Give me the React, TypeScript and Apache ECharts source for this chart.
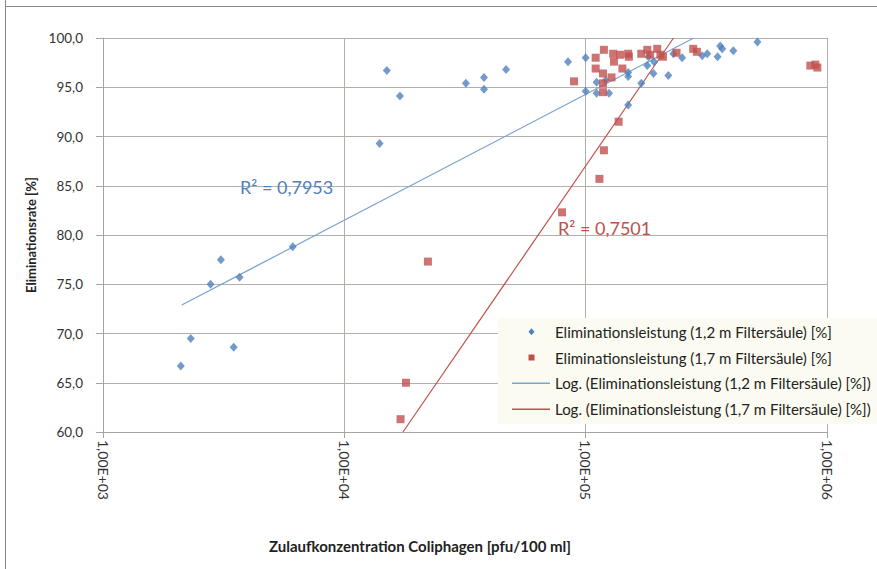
import React, { useEffect, useRef } from 'react';
import * as echarts from 'echarts';

// Zulaufkonzentration Coliphagen [pfu/100 ml] vs. Eliminationsrate [%]
const blueX = [2.10e3, 2.31e3, 2.79e3, 3.08e3, 3.48e3, 3.68e3, 6.11e3, 1.40e4, 1.50e4, 1.70e4,
  3.19e4, 3.79e4, 3.79e4, 4.68e4, 8.45e4, 1.00e5, 1.00e5, 1.11e5, 1.11e5, 1.21e5,
  1.25e5, 1.50e5, 1.50e5, 1.70e5, 1.50e5, 1.80e5, 1.82e5, 1.91e5, 1.92e5, 2.20e5,
  2.31e5, 2.51e5, 3.04e5, 3.19e5, 3.52e5, 3.61e5, 3.68e5, 4.09e5, 5.15e5];
const blueY = [66.7, 69.5, 75.0, 77.5, 68.6, 75.7, 78.8, 89.3, 96.7, 94.1,
  95.4, 96.0, 94.8, 96.8, 97.6, 98.0, 94.6, 95.5, 94.4, 95.7,
  94.4, 96.5, 96.1, 95.4, 93.2, 97.2, 98.1, 96.4, 97.6, 96.2,
  98.4, 98.0, 98.2, 98.4, 98.1, 99.2, 98.9, 98.7, 99.6];

const redX = [1.71e4, 1.80e4, 2.22e4, 7.98e4, 1.14e5, 1.19e5, 1.37e5, 8.95e4, 1.10e5, 1.10e5,
  1.19e5, 1.18e5, 1.18e5, 1.18e5, 1.28e5, 1.30e5, 1.31e5, 1.39e5, 1.42e5, 1.50e5,
  1.51e5, 1.70e5, 1.80e5, 1.85e5, 1.98e5, 2.04e5, 2.09e5, 2.38e5, 2.79e5, 2.89e5,
  8.53e5, 9.12e5, 8.95e5];
const redY = [61.3, 65.0, 77.3, 82.3, 85.7, 88.6, 91.5, 95.6, 98.0, 96.9,
  98.8, 96.4, 95.4, 94.5, 96.0, 98.4, 97.6, 98.3, 96.9, 98.4,
  98.1, 98.4, 98.8, 98.3, 98.9, 98.3, 98.1, 98.5, 98.9, 98.6,
  97.2, 97.0, 97.3];

// logarithmic trend lines, end points
const blueTrendX = [2.12e3, 2.805e5];
const blueTrendY = [72.9, 100.0];
const redTrendX = [1.75e4, 2.312e5];
const redTrendY = [60.0, 100.0];

const blueR2 = 'R² = 0,7953';
const redR2 = 'R² = 0,7501';

const nameBlue = 'Eliminationsleistung (1,2 m Filtersäule) [%]';
const nameRed = 'Eliminationsleistung (1,7 m Filtersäule) [%]';
const nameBlueTrend = 'Log. (Eliminationsleistung (1,2 m Filtersäule) [%])';
const nameRedTrend = 'Log. (Eliminationsleistung (1,7 m Filtersäule) [%])';

const BLUE = '#4f81bd';
const BLUE_LINE = '#7aa3d1';
const RED = '#c0504d';
const FONT = 'Lato, "Noto Sans", sans-serif';
const LEGEND_FONT = '15px ' + FONT;

const zip = (xs: number[], ys: number[]) => xs.map((x, i) => [x, ys[i]]);

export default function App() {
  const ref = useRef<HTMLDivElement>(null);
  useEffect(() => {
    const chart = echarts.init(ref.current!, null, { renderer: 'svg' });
    const rows = [331.7, 357.5, 383.3, 409.3];
    const legendTexts = [nameBlue, nameRed, nameBlueTrend, nameRedTrend];
    chart.setOption({
      animation: false,
      backgroundColor: '#ffffff',
      textStyle: { fontFamily: FONT },
      grid: { left: 103, right: 50, top: 38, bottom: 137, containLabel: false },
      legend: { show: false },
      xAxis: {
        type: 'log',
        logBase: 10,
        min: 1000,
        max: 1000000,
        name: 'Zulaufkonzentration Coliphagen [pfu/100 ml]',
        nameLocation: 'middle',
        nameGap: 106,
        nameTextStyle: { fontFamily: FONT, fontSize: 15, fontWeight: 'bold', color: '#222', padding: [0, 90, 0, 0] },
        axisLine: { show: true, lineStyle: { color: '#a9a39f', width: 1 } },
        axisTick: { show: true, inside: false, length: 6, lineStyle: { color: '#a9a39f' } },
        minorTick: { show: false },
        splitLine: { show: true, lineStyle: { color: '#b5afab', width: 1 } },
        axisLabel: {
          rotate: -90,
          margin: 8,
          fontFamily: FONT,
          fontSize: 14,
          color: '#333',
          formatter: (v: number) => {
            const e = Math.round(Math.log10(v));
            return '1,00E+' + (e < 10 ? '0' + e : String(e));
          },
        },
      },
      yAxis: {
        type: 'value',
        min: 60,
        max: 100,
        interval: 5,
        name: 'Eliminationsrate [%]',
        nameLocation: 'middle',
        nameGap: 63,
        nameTextStyle: { fontFamily: FONT, fontSize: 13, fontWeight: 'bold', color: '#222' },
        axisLine: { show: true, lineStyle: { color: '#a9a39f', width: 1 } },
        axisTick: { show: true, inside: false, length: 7, lineStyle: { color: '#a9a39f' } },
        splitLine: { show: true, lineStyle: { color: '#b5afab', width: 1 } },
        axisLabel: {
          margin: 20,
          fontFamily: FONT,
          fontSize: 13.5,
          color: '#333',
          formatter: (v: number) => v.toFixed(1).replace('.', ','),
        },
      },
      series: [
        {
          name: nameBlueTrend,
          type: 'line',
          data: zip(blueTrendX, blueTrendY),
          showSymbol: false,
          symbol: 'none',
          clip: true,
          lineStyle: { color: BLUE_LINE, width: 1.2 },
          itemStyle: { color: BLUE_LINE },
          z: 2,
        },
        {
          name: nameRedTrend,
          type: 'line',
          data: zip(redTrendX, redTrendY),
          showSymbol: false,
          symbol: 'none',
          clip: true,
          lineStyle: { color: RED, width: 1.2 },
          itemStyle: { color: RED },
          z: 2,
        },
        {
          name: nameBlue,
          type: 'scatter',
          data: zip(blueX, blueY),
          symbol: 'diamond',
          symbolSize: [8, 9],
          itemStyle: { color: BLUE },
          z: 3,
        },
        {
          name: nameRed,
          type: 'scatter',
          data: zip(redX, redY),
          symbol: 'rect',
          symbolSize: 8,
          itemStyle: { color: RED },
          z: 4,
        },
      ],
      graphic: [
        { type: 'line', shape: { x1: 5.5, y1: 0, x2: 5.5, y2: 569 }, style: { stroke: '#7d8a99', lineWidth: 1 } },
        { type: 'line', shape: { x1: 5, y1: 6.5, x2: 877, y2: 6.5 }, style: { stroke: '#7d8a99', lineWidth: 1 } },
        {
          type: 'text', z: 10,
          style: { text: blueR2, x: 240, y: 187, verticalAlign: 'middle', fill: BLUE, font: '18px ' + FONT },
        },
        {
          type: 'text', z: 10,
          style: { text: redR2, x: 558, y: 228, verticalAlign: 'middle', fill: RED, font: '18px ' + FONT },
        },
        // legend
        { type: 'rect', z: 20, shape: { x: 498, y: 318, width: 379, height: 106 }, style: { fill: '#fbfbf1' } },
        {
          type: 'polygon', z: 21,
          shape: { points: [[531.5, rows[0] - 3.5], [534.5, rows[0]], [531.5, rows[0] + 3.5], [528.5, rows[0]]] },
          style: { fill: BLUE },
        },
        { type: 'rect', z: 21, shape: { x: 528.5, y: rows[1] - 3, width: 6, height: 6 }, style: { fill: RED } },
        { type: 'line', z: 21, shape: { x1: 512, y1: rows[2], x2: 550, y2: rows[2] }, style: { stroke: BLUE_LINE, lineWidth: 1.5 } },
        { type: 'line', z: 21, shape: { x1: 512, y1: rows[3], x2: 550, y2: rows[3] }, style: { stroke: RED, lineWidth: 1.5 } },
        ...legendTexts.map((t, i) => ({
          type: 'text', z: 21,
          style: { text: t, x: 555, y: rows[i], verticalAlign: 'middle', fill: '#222', font: LEGEND_FONT },
        })),
      ],
    });
    return () => chart.dispose();
  }, []);
  return (
    <div
      ref={ref}
      style={{ position: 'absolute', left: 0, top: 0, width: 877, height: 569, background: '#fff' }}
    />
  );
}
